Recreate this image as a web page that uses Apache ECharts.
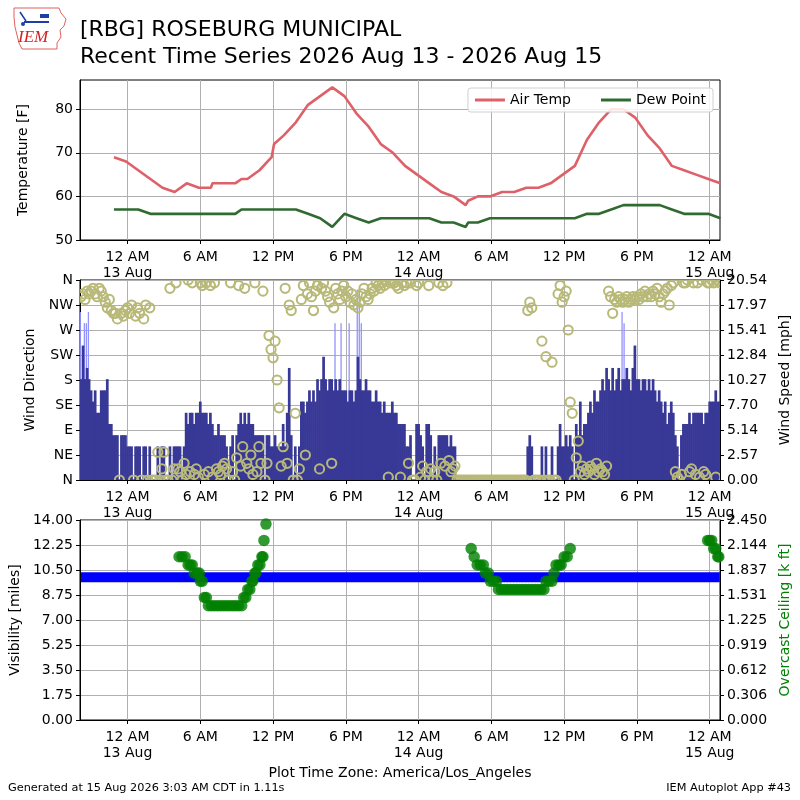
<!DOCTYPE html>
<html><head><meta charset="utf-8">
<script src="https://cdn.jsdelivr.net/npm/echarts@6/dist/echarts.min.js"></script>
<style>html,body{margin:0;padding:0;background:#fff}#c{width:800px;height:800px}</style>
</head><body><div id="c"></div>
<script>
// ---------------- DATA ----------------
const xTickHours = [0, 6, 12, 18, 24, 30, 36, 42, 48];
const xTickLabels = ['12 AM\n13 Aug', '6 AM', '12 PM', '6 PM', '12 AM\n14 Aug', '6 AM', '12 PM', '6 PM', '12 AM\n15 Aug'];
const tempTicks = [50, 60, 70, 80];
const dirTickLabels = ['N', 'NE', 'E', 'SE', 'S', 'SW', 'W', 'NW', 'N'];
const windSpeedTicks = [0, 2.57, 5.14, 7.70, 10.27, 12.84, 15.41, 17.97, 20.54];
const visTicks = [0, 1.75, 3.5, 5.25, 7, 8.75, 10.5, 12.25, 14];
const ceilTicks = [0, 0.306, 0.612, 0.919, 1.225, 1.531, 1.837, 2.144, 2.450];

// hourly METARs (local time, America/Los_Angeles)
const obsTimes = [
  '08-12 22:53','08-12 23:53',
  '08-13 00:53','08-13 01:53','08-13 02:53','08-13 03:53','08-13 04:53','08-13 05:53','08-13 06:53','08-13 07:00',
  '08-13 07:53','08-13 08:53','08-13 09:24','08-13 09:53','08-13 10:53','08-13 11:53','08-13 12:05','08-13 12:53',
  '08-13 13:53','08-13 14:53','08-13 15:53','08-13 16:53','08-13 17:53','08-13 18:53','08-13 19:53','08-13 20:53',
  '08-13 21:53','08-13 22:53','08-13 23:53',
  '08-14 00:53','08-14 01:53','08-14 02:53','08-14 03:53','08-14 04:05','08-14 04:53','08-14 05:53','08-14 06:53',
  '08-14 07:53','08-14 08:53','08-14 09:53','08-14 10:53','08-14 11:53','08-14 12:53','08-14 13:53','08-14 14:53',
  '08-14 15:53','08-14 16:53','08-14 17:53','08-14 18:53','08-14 19:53','08-14 20:53','08-14 21:53','08-14 22:53',
  '08-14 23:53','08-15 00:53'
];
const airTemp = [
  69, 68,
  66, 64, 62, 61, 63, 62, 62, 63,
  63, 63, 64, 64, 66, 69, 72, 74,
  77, 81, 83, 85, 83, 79, 76, 72,
  70, 67, 65,
  63, 61, 60, 58, 59, 60, 60, 61,
  61, 62, 62, 63, 65, 67, 73, 77,
  80, 80, 78, 74, 71, 67, 66, 65,
  64, 63
];
const dewPoint = [
  57, 57,
  57, 56, 56, 56, 56, 56, 56, 56,
  56, 56, 57, 57, 57, 57, 57, 57,
  57, 56, 55, 53, 56, 55, 54, 55,
  55, 55, 55,
  55, 54, 54, 53, 54, 54, 55, 55,
  55, 55, 55, 55, 55, 55, 56, 56,
  57, 58, 58, 58, 58, 57, 56, 56,
  56, 55
];

// wind observations every 10 minutes starting 08-12 20:10 (one row per hour)
const windStart = '08-12 20:10';
const windStepMinutes = 10;
const windSpeedKt = [
  9, 12, 9, 10, 9,        // 12 Aug 20h
  8, 7, 8, 6, 6, 8,       // 21h
  8, 8, 9, 5, 5, 4,       // 22h
  4, 4, 0, 4, 4, 4,       // 23h
  3, 3, 3, 0, 3, 3,       // 13 Aug 00h
  3, 0, 3, 3, 0, 3,       // 01h
  0, 0, 0, 3, 0, 3,       // 02h
  3, 0, 0, 3, 0, 3,       // 03h
  3, 3, 3, 0, 3, 6,       // 04h
  5, 6, 6, 5, 6, 6,       // 05h
  7, 6, 6, 6, 5, 6,       // 06h
  5, 4, 4, 5, 4, 4,       // 07h
  4, 3, 0, 3, 4, 0,       // 08h
  4, 5, 6, 5, 6, 5,       // 09h
  6, 5, 5, 4, 4, 4,       // 10h
  4, 4, 0, 4, 4, 3,       // 11h
  3, 4, 3, 3, 3, 5,       // 12h
  3, 6, 10, 4, 0, 3,      // 13h
  0, 3, 7, 7, 6, 7,       // 14h
  8, 7, 8, 7, 9, 8,       // 15h
  9, 11, 9, 8, 9, 9,      // 16h
  8, 9, 8, 9, 8, 8,       // 17h
  8, 7, 8, 8, 7, 8,       // 18h
  11, 9, 8, 8, 9, 8,      // 19h
  8, 7, 7, 8, 7, 7,       // 20h
  6, 7, 6, 6, 6, 7,       // 21h
  6, 6, 5, 5, 5, 5,       // 22h
  3, 3, 4, 0, 0, 5,       // 23h
  5, 4, 3, 0, 5, 5,       // 14 Aug 00h
  4, 0, 3, 0, 4, 4,       // 01h
  4, 4, 4, 3, 4, 3,       // 02h
  3, 0, 0, 0, 0, 0,       // 03h
  0, 0, 0, 0, 0, 0,       // 04h
  0, 0, 0, 0, 0, 0,       // 05h
  0, 0, 0, 0, 0, 0,       // 06h
  0, 0, 0, 0, 0, 0,       // 07h
  0, 0, 0, 0, 0, 0,       // 08h
  3, 4, 3, 0, 0, 0,       // 09h
  0, 3, 0, 3, 0, 0,       // 10h
  3, 0, 0, 3, 5, 3,       // 11h
  3, 4, 3, 4, 3, 0,       // 12h
  5, 4, 7, 4, 5, 5,       // 13h
  6, 7, 6, 8, 7, 7,       // 14h
  8, 9, 8, 10, 9, 8,      // 15h
  10, 8, 9, 10, 8, 9,     // 16h
  9, 10, 9, 8, 10, 12,    // 17h
  9, 9, 8, 9, 9, 8,       // 18h
  9, 8, 9, 8, 7, 8,       // 19h
  7, 6, 7, 5, 6, 7,       // 20h
  6, 4, 3, 0, 4, 5,       // 21h
  5, 5, 6, 5, 6, 6,       // 22h
  6, 6, 6, 5, 6, 6,       // 23h
  7, 7, 7, 8, 7, 7        // 15 Aug 00h
];
const windDirDeg = [
  330, 335, 325, 340, 335,
  340, 345, 335, 330, 345, 340,
  330, 320, 310, 325, 305, 300,
  300, 290, 0, 300, 295, 305,
  310, 300, 315, 0, 295, 310,
  300, 0, 290, 315, 0, 310,
  0, 0, 0, 50, 0, 20,
  50, 0, 0, 345, 0, 20,
  355, 20, 15, 0, 30, 10,
  360, 15, 355, 10, 20, 5,
  355, 350, 10, 355, 15, 350,
  5, 355, 20, 15, 10, 25,
  30, 20, 0, 355, 15, 0,
  40, 350, 25, 60, 345, 30,
  20, 45, 10, 355, 15, 60,
  30, 340, 0, 30, 260, 235,
  220, 250, 180, 130, 25, 60,
  345, 30, 315, 305, 0, 120,
  0, 20, 325, 350, 45, 335,
  355, 330, 305, 340, 350, 20,
  345, 355, 340, 330, 320, 30,
  310, 345, 335, 325, 340, 350,
  330, 340, 320, 335, 315, 325,
  310, 320, 335, 345, 330, 325,
  335, 345, 340, 355, 350, 345,
  355, 350, 360, 5, 355, 360,
  355, 350, 345, 5, 355, 350,
  355, 30, 355, 0, 0, 350,
  355, 5, 25, 0, 15, 350,
  20, 0, 15, 0, 355, 30,
  350, 25, 355, 35, 15, 20,
  25, 0, 0, 0, 0, 0,
  0, 0, 0, 0, 0, 0,
  0, 0, 0, 0, 0, 0,
  0, 0, 0, 0, 0, 0,
  0, 0, 0, 0, 0, 0,
  0, 0, 0, 0, 0, 0,
  305, 320, 310, 0, 0, 0,
  0, 250, 0, 222, 0, 0,
  212, 0, 0, 335, 350, 320,
  330, 340, 270, 140, 120, 0,
  40, 70, 15, 25, 10, 20,
  15, 25, 20, 10, 30, 15,
  20, 15, 10, 25, 340, 330,
  300, 325, 320, 330, 325, 320,
  325, 330, 320, 325, 330, 325,
  330, 325, 335, 330, 340, 330,
  335, 330, 340, 335, 345, 330,
  320, 335, 340, 345, 315, 350,
  355, 15, 5, 0, 10, 355,
  355, 360, 15, 20, 355, 10,
  355, 5, 360, 15, 10, 355,
  355, 360, 355, 5, 360, 355
];
const visibilityMi = [
  10,10,10,10,10,
  10,10,10,10,10,10, 10,10,10,10,10,10, 10,10,10,10,10,10,
  10,10,10,10,10,10, 10,10,10,10,10,10, 10,10,10,10,10,10, 10,10,10,10,10,10,
  10,10,10,10,10,10, 10,10,10,10,10,10, 10,10,10,10,10,10, 10,10,10,10,10,10,
  10,10,10,10,10,10, 10,10,10,10,10,10, 10,10,10,10,10,10, 10,10,10,10,10,10,
  10,10,10,10,10,10, 10,10,10,10,10,10, 10,10,10,10,10,10, 10,10,10,10,10,10,
  10,10,10,10,10,10, 10,10,10,10,10,10, 10,10,10,10,10,10, 10,10,10,10,10,10,
  10,10,10,10,10,10, 10,10,10,10,10,10, 10,10,10,10,10,10, 10,10,10,10,10,10,
  10,10,10,10,10,10, 10,10,10,10,10,10, 10,10,10,10,10,10, 10,10,10,10,10,10,
  10,10,10,10,10,10, 10,10,10,10,10,10, 10,10,10,10,10,10, 10,10,10,10,10,10,
  10,10,10,10,10,10, 10,10,10,10,10,10, 10,10,10,10,10,10, 10,10,10,10,10,10,
  10,10,10,10,10,10, 10,10,10,10,10,10, 10,10,10,10,10,10, 10,10,10,10,10,10,
  10,10,10,10,10,10, 10,10,10,10,10,10, 10,10,10,10,10,10, 10,10,10,10,10,10,
  10,10,10,10,10,10, 10,10,10,10,10,10, 10,10,10,10,10,10, 10,10,10,10,10,10,
  10,10,10,10,10,10
];
const gustTimes = ['08-12 20:10','08-12 20:30','08-12 20:40','08-12 20:50',
  '08-13 17:10','08-13 17:40','08-13 18:20','08-13 19:00','08-13 19:10','08-13 19:20',
  '08-14 16:50','08-14 17:00'];
const gustKt = [15, 14, 14, 15, 14, 14, 14, 17, 17, 14, 15, 14];

const ceilTimes = [
  '08-13 04:15','08-13 04:30','08-13 04:45','08-13 05:00','08-13 05:10','08-13 05:20','08-13 05:30','08-13 05:45',
  '08-13 05:55','08-13 06:00','08-13 06:10','08-13 06:20','08-13 06:30','08-13 06:40','08-13 06:55','08-13 07:10',
  '08-13 07:25','08-13 07:40','08-13 07:55','08-13 08:10','08-13 08:25','08-13 08:40','08-13 08:55','08-13 09:10',
  '08-13 09:25','08-13 09:35','08-13 09:45','08-13 09:55','08-13 10:05','08-13 10:15','08-13 10:20','08-13 10:30',
  '08-13 10:35','08-13 10:45','08-13 10:55','08-13 11:05','08-13 11:10','08-13 11:15','08-13 11:25',
  '08-14 04:20','08-14 04:35','08-14 04:50','08-14 05:05','08-14 05:20','08-14 05:30','08-14 05:45','08-14 05:55',
  '08-14 06:10','08-14 06:25','08-14 06:35','08-14 06:50','08-14 07:05','08-14 07:20','08-14 07:35','08-14 07:50',
  '08-14 08:05','08-14 08:20','08-14 08:35','08-14 08:50','08-14 09:05','08-14 09:20','08-14 09:35','08-14 09:50',
  '08-14 10:05','08-14 10:20','08-14 10:30','08-14 10:45','08-14 11:00','08-14 11:10','08-14 11:20','08-14 11:35',
  '08-14 11:45','08-14 12:00','08-14 12:15','08-14 12:30',
  '08-14 23:50','08-15 00:00','08-15 00:10','08-15 00:20','08-15 00:30','08-15 00:40','08-15 00:45'
];
const ceilKft = [
  2.0, 2.0, 2.0, 1.9, 1.9, 1.9, 1.8, 1.8,
  1.8, 1.7, 1.7, 1.5, 1.5, 1.4, 1.4, 1.4,
  1.4, 1.4, 1.4, 1.4, 1.4, 1.4, 1.4, 1.4,
  1.4, 1.5, 1.5, 1.6, 1.6, 1.7, 1.7, 1.8,
  1.8, 1.9, 1.9, 2.0, 2.0, 2.2, 2.4,
  2.1, 2.0, 1.9, 1.9, 1.9, 1.8, 1.8, 1.7,
  1.7, 1.7, 1.6, 1.6, 1.6, 1.6, 1.6, 1.6,
  1.6, 1.6, 1.6, 1.6, 1.6, 1.6, 1.6, 1.6,
  1.6, 1.6, 1.7, 1.7, 1.7, 1.8, 1.9, 1.9,
  1.9, 2.0, 2.0, 2.1,
  2.2, 2.2, 2.2, 2.1, 2.1, 2.0, 2.0
];
const axisStart = '08-12 20:05';
const axisEnd = '08-15 00:51';
const KT_TO_MPH = 1.15078;

// ---------------- BUILD ----------------
function toHours(s) {
  const parts = s.split(' ');
  const day = +parts[0].split('-')[1];
  const hm = parts[1].split(':').map(Number);
  return (day - 13) * 24 + hm[0] + hm[1] / 60;
}
const windT0 = toHours(windStart);
const windHours = windSpeedKt.map((_, i) => windT0 + i * windStepMinutes / 60);
const FONT = 'DejaVu Sans';
const FS = 14;
const xMin = toHours(axisStart), xMax = toHours(axisEnd);

function mkX(gi) {
  return {
    type: 'value', gridIndex: gi, min: xMin, max: xMax,
    axisLine: { show: true, onZero: false, lineStyle: { color: '#000', width: 1 } },
    axisTick: { show: true, customValues: xTickHours, length: 4, lineStyle: { color: '#000' } },
    axisLabel: { customValues: xTickHours, color: '#000', fontSize: FS, fontFamily: FONT, lineHeight: 16, margin: 9,
      formatter: v => xTickLabels[xTickHours.indexOf(Math.round(v))] || '' },
    splitLine: { show: true, lineStyle: { color: '#b0b0b0', width: 1 } }
  };
}
function mkY(gi, opt) {
  return Object.assign({
    type: 'value', gridIndex: gi,
    axisLine: { show: true, onZero: false, lineStyle: { color: '#000' } },
    axisTick: { show: true, length: 4, lineStyle: { color: '#000' } },
    nameLocation: 'middle', nameRotate: 90,
    nameTextStyle: { color: '#000', fontSize: FS, fontFamily: FONT },
    splitLine: { show: true, lineStyle: { color: '#b0b0b0', width: 1 } }
  }, opt);
}
const lbl = (extra) => Object.assign({ color: '#000', fontSize: FS, fontFamily: FONT, margin: 7 }, extra);

function hollowCircle(params, api) {
  const p = api.coord([api.value(0), api.value(1)]);
  return { type: 'circle', shape: { cx: p[0], cy: p[1], r: 4.6 },
    style: { fill: 'none', stroke: '#b8b978', lineWidth: 2 } };
}

const option = {
  animation: false,
  backgroundColor: '#fff',
  textStyle: { fontFamily: FONT },
  title: {
    text: '[RBG] ROSEBURG MUNICIPAL\nRecent Time Series 2026 Aug 13 - 2026 Aug 15',
    left: 80, top: 17, padding: 0,
    textStyle: { fontSize: 22, fontWeight: 'normal', color: '#000', lineHeight: 27, fontFamily: FONT }
  },
  legend: {
    data: ['Air Temp', 'Dew Point'], top: 88, right: 87,
    itemWidth: 30, itemHeight: 3, icon: 'rect', itemGap: 30,
    padding: [5, 7, 5, 7],
    borderColor: '#d0d0d0', borderWidth: 1, borderRadius: 3, backgroundColor: 'rgba(255,255,255,0.85)',
    textStyle: { fontSize: FS, color: '#000', fontFamily: FONT }
  },
  grid: [
    { left: 80, top: 80, width: 640, height: 160, show: true, borderColor: '#000', borderWidth: 1 },
    { left: 80, top: 280, width: 640, height: 200, show: true, borderColor: '#000', borderWidth: 1 },
    { left: 80, top: 520, width: 640, height: 200, show: true, borderColor: '#000', borderWidth: 1 }
  ],
  xAxis: [mkX(0), mkX(1), mkX(2)],
  yAxis: [
    mkY(0, { min: 50, max: 86.7, name: 'Temperature [F]', nameGap: 50,
      axisTick: { show: true, length: 4, customValues: tempTicks, lineStyle: { color: '#000' } },
      axisLabel: lbl({ customValues: tempTicks }) }),
    mkY(1, { min: 0, max: 360, interval: 45, name: 'Wind Direction', nameGap: 38,
      axisLabel: lbl({ formatter: v => dirTickLabels[Math.round(v / 45)] }) }),
    mkY(1, { min: 0, max: 20.54, position: 'right', name: 'Wind Speed [mph]', nameGap: 53,
      splitLine: { show: false },
      axisTick: { show: true, length: 4, customValues: windSpeedTicks, lineStyle: { color: '#000' } },
      axisLabel: lbl({ customValues: windSpeedTicks, formatter: v => v.toFixed(2) }) }),
    mkY(2, { min: 0, max: 14, interval: 1.75, name: 'Visibility [miles]', nameGap: 54,
      axisLabel: lbl({ formatter: v => v.toFixed(2) }) }),
    mkY(2, { min: 0, max: 2.45, position: 'right', name: 'Overcast Ceiling [k ft]', nameGap: 53,
      nameTextStyle: { color: '#008000', fontSize: FS, fontFamily: FONT },
      splitLine: { show: false },
      axisTick: { show: true, length: 4, customValues: ceilTicks, lineStyle: { color: '#000' } },
      axisLabel: lbl({ customValues: ceilTicks, formatter: v => v.toFixed(3) }) })
  ],
  series: [
    { name: 'Air Temp', type: 'line', xAxisIndex: 0, yAxisIndex: 0, showSymbol: false, symbol: 'none',
      lineStyle: { color: '#de6068', width: 2.6 }, itemStyle: { color: '#de6068' },
      data: obsTimes.map((t, i) => [toHours(t), airTemp[i]]) },
    { name: 'Dew Point', type: 'line', xAxisIndex: 0, yAxisIndex: 0, showSymbol: false, symbol: 'none',
      lineStyle: { color: '#2f6a30', width: 2.6 }, itemStyle: { color: '#2f6a30' },
      data: obsTimes.map((t, i) => [toHours(t), dewPoint[i]]) },
    { name: 'Gust', type: 'bar', xAxisIndex: 1, yAxisIndex: 2, barWidth: 1.3, barGap: '-100%',
      itemStyle: { color: '#9393ff' }, z: 1,
      data: gustTimes.map((t, i) => [toHours(t), gustKt[i] * KT_TO_MPH]) },
    { name: 'Speed', type: 'bar', xAxisIndex: 1, yAxisIndex: 2, barWidth: 2.7,
      itemStyle: { color: '#383896' }, z: 2,
      data: windHours.map((h, i) => [h, windSpeedKt[i] * KT_TO_MPH]) },
    { name: 'Direction', type: 'custom', xAxisIndex: 1, yAxisIndex: 1, clip: true, z: 3,
      renderItem: hollowCircle, encode: { x: 0, y: 1 },
      data: windHours.map((h, i) => [h, windDirDeg[i]]) },
    { name: 'Visibility', type: 'line', xAxisIndex: 2, yAxisIndex: 3, showSymbol: false, symbol: 'none',
      lineStyle: { color: '#0000ff', width: 10, cap: 'butt' }, z: 2,
      data: windHours.map((h, i) => [h, visibilityMi[i]]) },
    { name: 'Ceiling', type: 'scatter', xAxisIndex: 2, yAxisIndex: 4, symbol: 'circle', symbolSize: 11.5,
      itemStyle: { color: '#008000' }, z: 3,
      data: ceilTimes.map((t, i) => [toHours(t), ceilKft[i]]) }
  ],
  graphic: [
    { type: 'polygon', shape: { points: [[14,8],[59,8],[61,13],[66,19],[64,26],[60,30],[61,37],[57,43],[57,49],[22,49],[19,43],[17,35],[15,27],[14,17]] },
      style: { fill: 'none', stroke: '#e06060', lineWidth: 1 } },
    { type: 'line', shape: { x1: 24, y1: 22, x2: 49, y2: 22 }, style: { stroke: '#1a3fa8', lineWidth: 2 } },
    { type: 'line', shape: { x1: 20, y1: 12, x2: 26, y2: 21 }, style: { stroke: '#1a3fa8', lineWidth: 1.5 } },
    { type: 'rect', shape: { x: 40, y: 14, width: 9, height: 4 }, style: { fill: '#1a3fa8' } },
    { type: 'circle', shape: { cx: 23, cy: 24, r: 2 }, style: { fill: '#1a3fa8' } },
    { type: 'text', left: 18, top: 29, style: { text: 'IEM', font: 'italic 17px "Liberation Serif"', fill: '#d42020' } },
    { type: 'text', left: 'center', top: 766, style: { text: 'Plot Time Zone: America/Los_Angeles', font: '14px "DejaVu Sans"', fill: '#000' } },
    { type: 'text', left: 8, top: 783, style: { text: 'Generated at 15 Aug 2026 3:03 AM CDT in 1.11s', font: '11.3px "DejaVu Sans"', fill: '#000' } },
    { type: 'text', right: 9, top: 783, style: { text: 'IEM Autoplot App #43', font: '11.3px "DejaVu Sans"', fill: '#000' } }
  ]
};
const chart = echarts.init(document.getElementById('c'), null, { renderer: 'canvas' });
chart.setOption(option);
</script>
</body></html>
